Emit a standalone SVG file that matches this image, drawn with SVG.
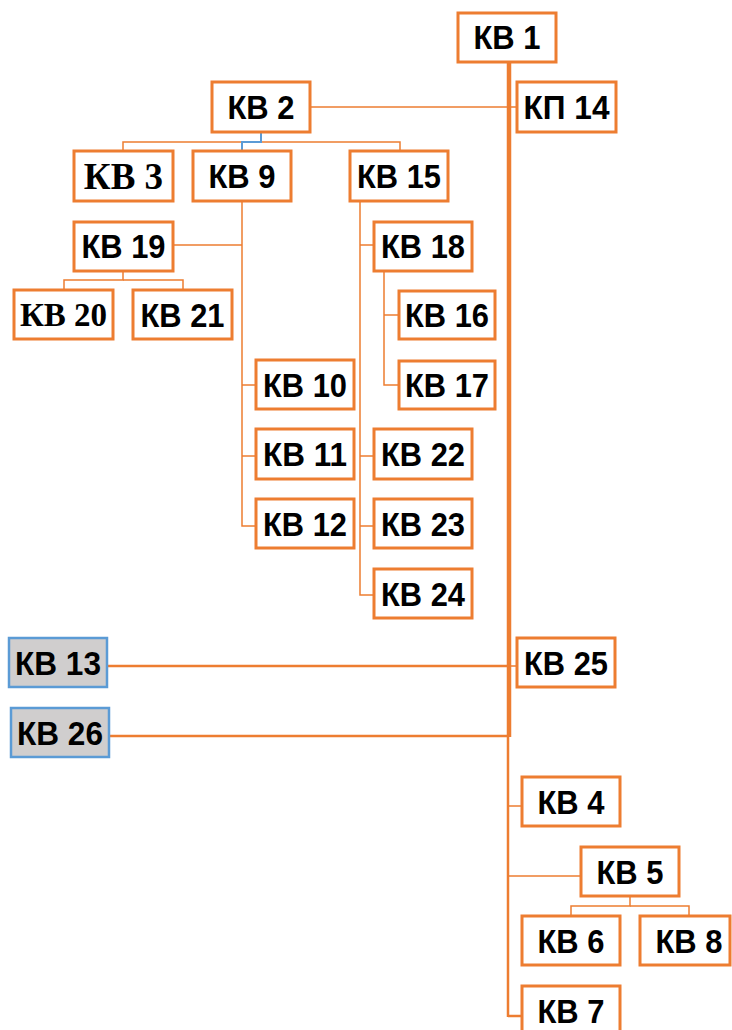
<svg xmlns="http://www.w3.org/2000/svg" width="732" height="1030" viewBox="0 0 732 1030">
<style>
.box{fill:#FFFFFF;stroke:#ED7D31;stroke-width:3}
.gbox{fill:#D0CECE;stroke:#5B9BD5;stroke-width:2.5}
.t{font-family:"Liberation Sans",Arial,sans-serif;font-weight:bold;font-size:33px;fill:#000;text-anchor:middle}
.s{font-family:"Liberation Serif","Times New Roman",serif;font-weight:bold;fill:#000;text-anchor:middle}
.c{fill:none;stroke:#ED7D31;stroke-width:1.5}
.cm{fill:none;stroke:#ED7D31;stroke-width:2.5}
.ck{fill:none;stroke:#ED7D31;stroke-width:4.5}
</style>
<rect width="732" height="1030" fill="#FFFFFF"/>
<g id="connectors">
  <line class="ck" x1="509" y1="62" x2="509" y2="737"/>
  <line class="cm" x1="508" y1="736" x2="508" y2="1017"/>
  <line class="c" x1="311" y1="107" x2="517" y2="107"/>
  <polyline class="c" points="123,151 123,142 400,142 400,151"/>
  <polyline fill="none" stroke="#5B9BD5" stroke-width="2" points="261,132 261,142 242,142 242,151"/>
  <polyline class="c" points="242,201 242,526 256,526"/>
  <line class="c" x1="173" y1="245" x2="242" y2="245"/>
  <line class="c" x1="242" y1="385" x2="256" y2="385"/>
  <line class="c" x1="242" y1="456" x2="256" y2="456"/>
  <polyline class="c" points="123,271 123,280 64,280 64,290"/>
  <polyline class="c" points="123,280 183,280 183,290"/>
  <polyline class="c" points="360,201 360,595 374,595"/>
  <line class="c" x1="360" y1="245" x2="374" y2="245"/>
  <line class="c" x1="360" y1="456" x2="374" y2="456"/>
  <line class="c" x1="360" y1="526" x2="374" y2="526"/>
  <polyline class="c" points="384,271 384,385 399,385"/>
  <line class="c" x1="384" y1="315" x2="399" y2="315"/>
  <line class="cm" x1="108" y1="666" x2="509" y2="666"/>
  <line class="c" x1="509" y1="666" x2="517" y2="666"/>
  <line class="cm" x1="110" y1="736" x2="509" y2="736"/>
  <line class="c" x1="508" y1="806" x2="522" y2="806"/>
  <line class="c" x1="508" y1="876" x2="581" y2="876"/>
  <line class="cm" x1="508" y1="1016" x2="522" y2="1016"/>
  <polyline class="c" points="630,896 630,906 571,906 571,916"/>
  <polyline class="c" points="630,906 689,906 689,916"/>
</g>
<g id="kv1"><rect class="box" x="458" y="13" width="98" height="49"/><text class="t" x="507" y="49" textLength="67" lengthAdjust="spacingAndGlyphs">КВ 1</text></g>
<g id="kv2"><rect class="box" x="212" y="82" width="98" height="50"/><text class="t" x="261" y="119" textLength="67" lengthAdjust="spacingAndGlyphs">КВ 2</text></g>
<g id="kp14"><rect class="box" x="517" y="82" width="99" height="50"/><text class="t" x="566.5" y="119" textLength="86" lengthAdjust="spacingAndGlyphs">КП 14</text></g>
<g id="kv3"><rect class="box" x="74" y="151" width="99" height="50"/><text class="s" x="123.5" y="189" font-size="37">КВ 3</text></g>
<g id="kv9"><rect class="box" x="193" y="151" width="98" height="50"/><text class="t" x="242" y="188" textLength="67" lengthAdjust="spacingAndGlyphs">КВ 9</text></g>
<g id="kv15"><rect class="box" x="350" y="151" width="98" height="50"/><text class="t" x="399" y="188" textLength="84" lengthAdjust="spacingAndGlyphs">КВ 15</text></g>
<g id="kv19"><rect class="box" x="74" y="222" width="99" height="49"/><text class="t" x="123.5" y="258" textLength="84" lengthAdjust="spacingAndGlyphs">КВ 19</text></g>
<g id="kv18"><rect class="box" x="374" y="222" width="98" height="49"/><text class="t" x="423" y="258" textLength="84" lengthAdjust="spacingAndGlyphs">КВ 18</text></g>
<g id="kv20"><rect class="box" x="14" y="290" width="99" height="49"/><text class="s" x="63.5" y="326" font-size="33">КВ 20</text></g>
<g id="kv21"><rect class="box" x="133" y="290" width="99" height="49"/><text class="t" x="182.5" y="327" textLength="84" lengthAdjust="spacingAndGlyphs">КВ 21</text></g>
<g id="kv16"><rect class="box" x="399" y="291" width="96" height="48"/><text class="t" x="447" y="327" textLength="84" lengthAdjust="spacingAndGlyphs">КВ 16</text></g>
<g id="kv10"><rect class="box" x="256" y="360" width="98" height="49"/><text class="t" x="305" y="397" textLength="84" lengthAdjust="spacingAndGlyphs">КВ 10</text></g>
<g id="kv17"><rect class="box" x="399" y="361" width="96" height="48"/><text class="t" x="447" y="397" textLength="84" lengthAdjust="spacingAndGlyphs">КВ 17</text></g>
<g id="kv11"><rect class="box" x="256" y="429" width="98" height="50"/><text class="t" x="305" y="466" textLength="84" lengthAdjust="spacingAndGlyphs">КВ 11</text></g>
<g id="kv22"><rect class="box" x="374" y="429" width="98" height="50"/><text class="t" x="423" y="466" textLength="84" lengthAdjust="spacingAndGlyphs">КВ 22</text></g>
<g id="kv12"><rect class="box" x="256" y="499" width="98" height="49"/><text class="t" x="305" y="536" textLength="84" lengthAdjust="spacingAndGlyphs">КВ 12</text></g>
<g id="kv23"><rect class="box" x="374" y="499" width="98" height="49"/><text class="t" x="423" y="536" textLength="84" lengthAdjust="spacingAndGlyphs">КВ 23</text></g>
<g id="kv24"><rect class="box" x="374" y="569" width="98" height="49"/><text class="t" x="423" y="606" textLength="84" lengthAdjust="spacingAndGlyphs">КВ 24</text></g>
<g id="kv13"><rect class="gbox" x="9" y="638" width="98" height="49"/><text class="t" x="58" y="675" textLength="86" lengthAdjust="spacingAndGlyphs">КВ 13</text></g>
<g id="kv25"><rect class="box" x="517" y="638" width="98" height="49"/><text class="t" x="566" y="675" textLength="84" lengthAdjust="spacingAndGlyphs">КВ 25</text></g>
<g id="kv26"><rect class="gbox" x="11" y="708" width="98" height="49"/><text class="t" x="60" y="745" textLength="86" lengthAdjust="spacingAndGlyphs">КВ 26</text></g>
<g id="kv4"><rect class="box" x="522" y="777" width="98" height="49"/><text class="t" x="571" y="814" textLength="67" lengthAdjust="spacingAndGlyphs">КВ 4</text></g>
<g id="kv5"><rect class="box" x="581" y="847" width="98" height="49"/><text class="t" x="630" y="884" textLength="67" lengthAdjust="spacingAndGlyphs">КВ 5</text></g>
<g id="kv6"><rect class="box" x="522" y="916" width="98" height="49"/><text class="t" x="571" y="953" textLength="67" lengthAdjust="spacingAndGlyphs">КВ 6</text></g>
<g id="kv8"><rect class="box" x="640" y="916" width="90" height="49"/><text class="t" x="689" y="953" textLength="67" lengthAdjust="spacingAndGlyphs">КВ 8</text></g>
<g id="kv7"><rect class="box" x="522" y="986" width="98" height="49"/><text class="t" x="571" y="1023" textLength="67" lengthAdjust="spacingAndGlyphs">КВ 7</text></g>
</svg>
